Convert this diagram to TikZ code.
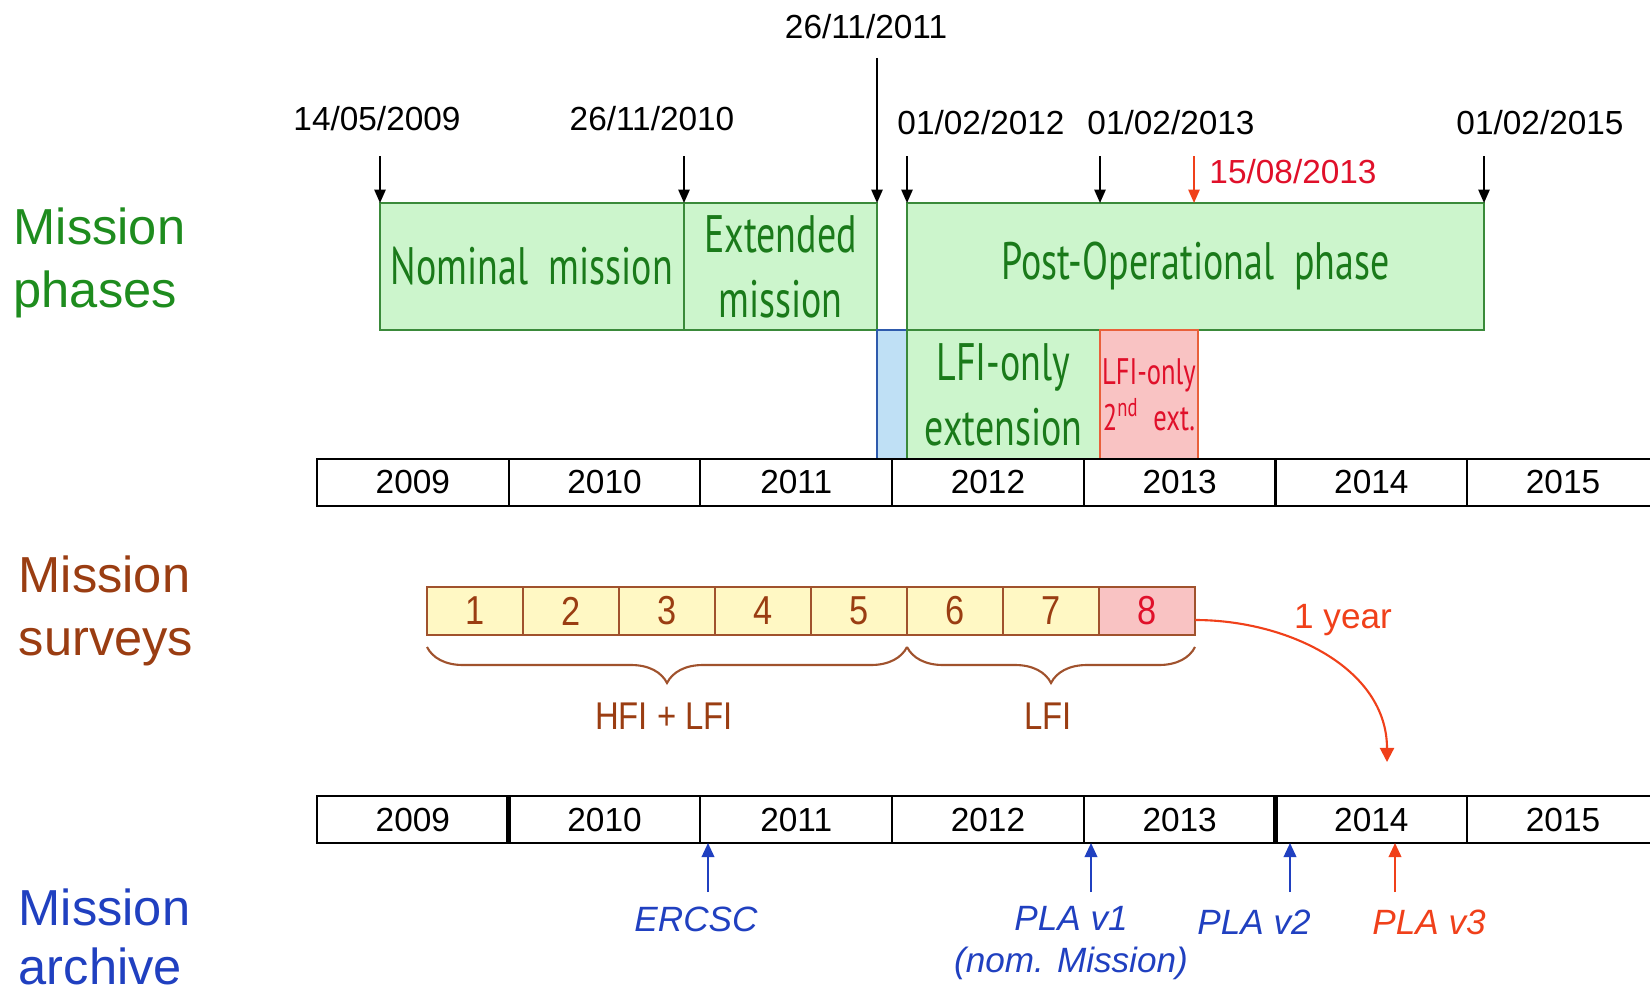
\documentclass[tikz,border=0pt]{standalone}
\usepackage{fontspec}
\setmainfont{Liberation Sans}
\newfontfamily\gillfont[FakeStretch=0.72]{PT Sans}
\newfontfamily\narrowfont[FakeStretch=0.85]{Liberation Sans}
\usepackage{tikz}
\usetikzlibrary{arrows.meta,positioning,decorations.pathreplacing}
\usepackage{xcolor}
\definecolor{phaseGreen}{HTML}{1E8C1E}
\definecolor{phaseText}{HTML}{1A7A1A}
\definecolor{phaseFill}{HTML}{CCF5CC}
\definecolor{phaseEdge}{HTML}{3A8A3A}
\definecolor{gapFill}{HTML}{BFE0F5}
\definecolor{gapEdge}{HTML}{2E5AAC}
\definecolor{pinkFill}{HTML}{F9C3C3}
\definecolor{pinkEdge}{HTML}{E9603A}
\definecolor{redText}{HTML}{E0102A}
\definecolor{surveyFill}{HTML}{FFF8C4}
\definecolor{surveyEdge}{HTML}{A0522D}
\definecolor{brown}{HTML}{9A3D12}
\definecolor{arrowRed}{HTML}{F0401A}
\definecolor{archBlue}{HTML}{2040C0}
\tikzset{
  base/.style={font=\fontsize{9.5}{11.5}\selectfont, text=black, inner sep=0pt},
  sidelabel/.style={font=\fontsize{14.4}{17.9}\selectfont, anchor=west, align=left, inner sep=0pt},
  phase/.style={draw=phaseEdge, fill=phaseFill, text=phaseText, line width=0.5pt, inner sep=0pt, outer sep=0pt, align=center, font=\gillfont\fontsize{15}{18.5}\selectfont},
  gapbox/.style={phase, draw=gapEdge, fill=gapFill},
  redbox/.style={phase, draw=pinkEdge, fill=pinkFill, text=redText, font=\gillfont\fontsize{10.5}{13}\selectfont},
  yearcell/.style={draw=black, line width=0.6pt, minimum width=19.17mm, minimum height=4.7mm, inner sep=0pt, outer sep=0pt, font=\fontsize{9.5}{11}\selectfont},
  survey/.style={draw=surveyEdge, fill=surveyFill, text=brown, line width=0.5pt, minimum width=9.6mm, minimum height=4.8mm, inner sep=0pt, outer sep=0pt, font=\narrowfont\fontsize{11.5}{13}\selectfont},
  surveyred/.style={survey, fill=pinkFill, text=redText},
  surveybrace/.style={draw=surveyEdge, line width=0.6pt, decorate, decoration={brace, mirror, amplitude=3.6mm}},
  datearrow/.style={-{Triangle[width=3.2pt,length=3.8pt]}, line width=0.5pt, draw=black},
  redarrow/.style={datearrow, draw=arrowRed, fill=arrowRed},
  archarrow/.style={-{Triangle[width=3.6pt,length=4pt]}, line width=0.5pt, draw=archBlue},
  yeararrow/.style={-{Triangle[width=4pt,length=4pt]}, line width=0.6pt, draw=arrowRed},
  archlabel/.style={base, font=\itshape\fontsize{10}{11.7}\selectfont, text=archBlue, align=center},
}

\begin{document}
\begin{tikzpicture}[x=0.1mm,y=-0.1mm]
  \useasboundingbox (0,0) rectangle (1650,998);

  % side titles
  \node[sidelabel,text=phaseGreen] (tphases) at (13,263) {Mission\\phases};
  \node[sidelabel,text=brown] (tsurveys) at (18,611) {Mission\\surveys};
  \node[sidelabel,text=archBlue,font=\fontsize{14.4}{16.8}\selectfont] (tarchive) at (18,937) {Mission\\archive};

  % mission phases
  \node[phase,minimum width=30.4mm,minimum height=12.7mm] (nominal) at (532,266.5) {Nominal\ \ mission};
  \node[phase,minimum width=19.3mm,minimum height=12.7mm] (extended) at (780.5,266.5) {Extended\\mission};
  \node[phase,minimum width=57.7mm,minimum height=12.7mm] (postop) at (1195.5,266.5) {\raisebox{-0.8mm}{Post-Operational\ \ phase}};
  \node[gapbox,minimum width=3.0mm,minimum height=12.9mm] (gap) at (892,394.5) {};
  \node[phase,minimum width=19.3mm,minimum height=12.9mm] (lfiext) at (1003.5,394.5) {LFI-only\\extension};
  \node[redbox,minimum width=9.8mm,minimum height=12.9mm] (lfired) at (1149,394.5) {LFI-only\\2\textsuperscript{nd}\ \ ext.};

  % dates
  \node[base] (d1) at (377,119) {14/05/2009};
  \node[base] (d2) at (652,119) {26/11/2010};
  \node[base] (d3) at (866,27) {26/11/2011};
  \node[base] (d4) at (981,123) {01/02/2012};
  \node[base] (d5) at (1171,123) {01/02/2013};
  \node[base,text=redText] (d6) at (1293,172) {15/08/2013};
  \node[base] (d7) at (1540,123) {01/02/2015};

  \coordinate (t1) at ([yshift=4.7mm]nominal.north west);
  \coordinate (t2) at ([yshift=4.7mm]nominal.north east);
  \coordinate (t3) at ([yshift=14.5mm]extended.north east);
  \coordinate (t4) at ([yshift=4.7mm]postop.north west);
  \coordinate (t5) at ([yshift=4.7mm]postop.north -| lfiext.east);
  \coordinate (t6) at ([yshift=4.7mm,xshift=-0.4mm]postop.north -| lfired.east);
  \coordinate (t7) at ([yshift=4.7mm]postop.north east);
  \draw[datearrow] (t1) -- (nominal.north west);
  \draw[datearrow] (t2) -- (nominal.north east);
  \draw[datearrow] (t3) -- (extended.north east);
  \draw[datearrow] (t4) -- (postop.north west);
  \draw[datearrow] (t5) -- (t5 |- postop.north);
  \draw[redarrow] (t6) -- (t6 |- postop.north);
  \draw[datearrow] (t7) -- (postop.north east);

  % years, upper row
  \foreach \yr [count=\i from 0] in {2009,...,2015}
    \node[yearcell] (ya\yr) at ({317+191.7*\i+95.85},482.5) {\yr};

  % surveys
  \foreach \n in {1,...,7}
    \node[survey] (s\n) at ({427+96*(\n-1)+48},611) {\n};
  \node[surveyred] (s8) at (1147,611) {8};

  \draw[surveybrace] ([yshift=-1.2mm]s1.south west) -- ([yshift=-1.2mm]s5.south east);
  \draw[surveybrace] ([yshift=-1.2mm]s6.south west) -- ([yshift=-1.2mm]s8.south east);
  \node[base,text=brown,font=\narrowfont\fontsize{11}{13}\selectfont] (hfilfi) at (664,716) {HFI + LFI};
  \node[base,text=brown,font=\narrowfont\fontsize{11}{13}\selectfont] (lfionly) at (1048,716) {LFI};

  \coordinate (pv3top) at (1387,762);
  \draw[yeararrow] ([yshift=-0.9mm]s8.east) to[out=0,in=90] (pv3top);
  \node[base,text=arrowRed,font=\fontsize{10}{12}\selectfont] (oneyear) at (1343,620) {1 year};

  % years, lower row
  \foreach \yr [count=\i from 0] in {2009,...,2015}
    \node[yearcell] (yb\yr) at ({317+191.7*\i+95.85},819.5) {\yr};
  \draw[line width=1.3pt] (yb2010.north west) -- (yb2010.south west);
  \draw[line width=1.3pt] (yb2014.north west) -- (yb2014.south west);

  % archive releases
  \node[archlabel] (ercsc) at (696,919) {ERCSC};
  \node[archlabel] (plav1) at (1071,943) {PLA v1\\(nom. Mission)};
  \node[archlabel] (plav2) at (1254,922) {PLA v2};
  \node[archlabel,text=arrowRed] (plav3) at (1429,922) {PLA v3};

  \coordinate (a1) at (708,892);
  \coordinate (a2) at (1091,892);
  \coordinate (a3) at (1290,892);
  \coordinate (a4) at (1395,892);
  \draw[archarrow] (a1) -- (a1 |- yb2011.south);
  \draw[archarrow] (a2) -- (a2 |- yb2013.south);
  \draw[archarrow] (a3) -- (a3 |- yb2014.south);
  \draw[archarrow,draw=arrowRed] (a4) -- (a4 |- yb2014.south);
\end{tikzpicture}
\end{document}
